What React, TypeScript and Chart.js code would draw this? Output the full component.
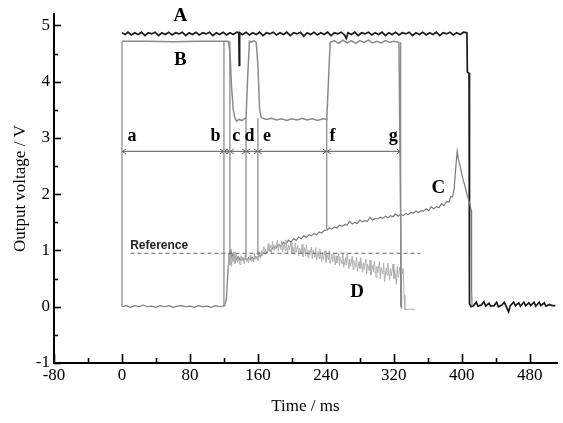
import React, { useEffect, useRef } from "react";
import { Chart, registerables } from "chart.js";

Chart.register(...registerables);

// ---- axes ----
const X_MIN = -80;
const X_MAX = 512;
const Y_MIN = -1;
const Y_MAX = 5.2;
const X_TICK_LABELS = [-80, 0, 80, 160, 240, 320, 400, 480];
const X_MINOR_TICKS = [-40, 40, 120, 200, 280, 360, 440];
const Y_TICK_LABELS = [-1, 0, 1, 2, 3, 4, 5];
const Y_MINOR_TICKS = [-0.5, 0.5, 1.5, 2.5, 3.5, 4.5];

// ---- series (time ms, voltage V) ----
const SERIES_A: [number, number][] = [
  [0, 4.87], [4, 4.84], [7, 4.88], [11, 4.83], [15, 4.87], [19, 4.84], [23, 4.88], [27, 4.82],
  [31, 4.87], [35, 4.85], [39, 4.88], [43, 4.82], [47, 4.87], [51, 4.84], [55, 4.88], [59, 4.83],
  [63, 4.87], [67, 4.85], [71, 4.88], [75, 4.82], [79, 4.87], [83, 4.84], [87, 4.88], [91, 4.83],
  [95, 4.87], [99, 4.85], [103, 4.88], [107, 4.82], [111, 4.87], [115, 4.84], [119, 4.88], [123, 4.83],
  [127, 4.87], [131, 4.84], [135, 4.88], [137.5, 4.87], [138, 4.29], [138.5, 4.87], [142, 4.84], [146, 4.88],
  [150, 4.83], [154, 4.87], [158, 4.84], [162, 4.88], [166, 4.82], [170, 4.87], [174, 4.85], [178, 4.88],
  [182, 4.83], [186, 4.87], [190, 4.84], [194, 4.88], [198, 4.82], [202, 4.87], [206, 4.85], [210, 4.88],
  [214, 4.81], [218, 4.87], [222, 4.84], [226, 4.88], [230, 4.83], [234, 4.87], [238, 4.84], [242, 4.88],
  [246, 4.82], [250, 4.87], [254, 4.85], [258, 4.88], [262, 4.83], [264, 4.77], [266, 4.87], [270, 4.84],
  [274, 4.88], [278, 4.82], [282, 4.87], [286, 4.85], [290, 4.88], [294, 4.83], [298, 4.87], [302, 4.84],
  [306, 4.88], [310, 4.82], [314, 4.87], [318, 4.84], [322, 4.88], [326, 4.83], [330, 4.87], [334, 4.85],
  [338, 4.88], [342, 4.82], [346, 4.87], [350, 4.84], [354, 4.88], [358, 4.83], [362, 4.87], [366, 4.84],
  [370, 4.88], [374, 4.82], [378, 4.87], [382, 4.85], [386, 4.88], [390, 4.83], [394, 4.87], [398, 4.84],
  [402, 4.88], [406, 4.87], [406.5, 4.17], [408.5, 4.15], [409, 0.05], [411, 0.0], [414, 0.02], [417, 0.08],
  [419, 0.01], [423, 0.03], [426, 0.09], [428, 0.01], [432, 0.06], [434, 0.01], [438, 0.02], [441, 0.08],
  [443, 0.0], [447, 0.03], [450, 0.08], [452, 0.01], [455, -0.09], [457, 0.02], [461, 0.08], [463, 0.02],
  [467, 0.07], [469, 0.01], [473, 0.08], [475, 0.02], [479, 0.07], [481, 0.02], [485, 0.08], [487, 0.01],
  [491, 0.08], [493, 0.02], [497, 0.07], [499, 0.01], [503, 0.04], [506, 0.02], [510, 0.02],
];

const SERIES_B: [number, number][] = [
  [0, 4.72], [30, 4.72], [60, 4.71], [90, 4.72], [122, 4.72], [125, 4.72], [127, 4.55], [129, 3.9],
  [131, 3.5], [133, 3.35], [135, 3.3], [138, 3.33], [141, 3.31], [144, 3.34], [146, 3.35], [148, 4.1],
  [150, 4.72], [152, 4.7], [155, 4.73], [158, 4.7], [160, 4.3], [162, 3.5], [164, 3.36], [170, 3.33],
  [176, 3.35], [182, 3.32], [188, 3.34], [194, 3.31], [200, 3.34], [206, 3.32], [212, 3.35], [218, 3.32],
  [224, 3.34], [230, 3.31], [236, 3.34], [241, 3.33], [243, 4.0], [245, 4.7], [250, 4.73], [255, 4.68],
  [260, 4.74], [265, 4.69], [270, 4.73], [275, 4.68], [280, 4.73], [285, 4.7], [290, 4.74], [295, 4.69],
  [300, 4.72], [305, 4.69], [310, 4.73], [315, 4.7], [320, 4.72], [326, 4.7], [329, -0.03],
];

const SERIES_C: [number, number][] = [
  [0, 0.0], [5, 0.02], [10, -0.01], [15, 0.02], [20, 0.0], [25, 0.03], [30, 0.0], [35, 0.01],
  [40, -0.01], [45, 0.02], [50, 0.0], [55, 0.02], [60, -0.01], [65, 0.01], [70, 0.02], [75, 0.0],
  [80, 0.01], [85, -0.01], [90, 0.02], [95, 0.0], [100, 0.01], [105, -0.01], [110, 0.02], [115, 0.0],
  [121, 0.02], [123, 0.15], [124, 0.45], [125, 0.7], [126, 0.95], [127, 1.0], [128, 0.84], [129, 0.96],
  [130, 0.86], [131, 0.93], [132, 0.82], [133, 0.9], [135, 0.84], [137, 0.89], [139, 0.83], [141, 0.87],
  [143, 0.82], [145, 0.86], [147, 0.83], [149, 0.87], [151, 0.84], [153, 0.88], [155, 0.85], [157, 0.89],
  [159, 0.86], [161, 0.91], [163, 0.89], [166, 0.96], [169, 0.94], [172, 1.01], [175, 0.99], [178, 1.06],
  [181, 1.04], [184, 1.1], [187, 1.08], [190, 1.14], [193, 1.12], [196, 1.18], [199, 1.15], [202, 1.21],
  [205, 1.18], [208, 1.24], [211, 1.21], [214, 1.26], [217, 1.23], [220, 1.28], [223, 1.26], [226, 1.3],
  [229, 1.28], [232, 1.33], [235, 1.31], [238, 1.36], [241, 1.36], [244, 1.4], [247, 1.38], [250, 1.42],
  [253, 1.4], [256, 1.45], [259, 1.43], [262, 1.46], [265, 1.45], [268, 1.52], [271, 1.47], [274, 1.5],
  [277, 1.48], [280, 1.54], [283, 1.51], [286, 1.53], [289, 1.52], [292, 1.59], [295, 1.54], [298, 1.57],
  [301, 1.56], [304, 1.59], [307, 1.57], [310, 1.61], [313, 1.58], [316, 1.62], [319, 1.6], [322, 1.65],
  [325, 1.61], [328, 1.64], [331, 1.62], [334, 1.66], [337, 1.64], [340, 1.68], [343, 1.66], [346, 1.7],
  [349, 1.67], [352, 1.71], [355, 1.7], [358, 1.74], [361, 1.71], [364, 1.78], [367, 1.74], [370, 1.78],
  [373, 1.76], [376, 1.83], [379, 1.8], [382, 1.87], [385, 1.86], [387, 1.96], [389, 1.95], [391, 2.1],
  [393, 2.5], [394.5, 2.76], [396, 2.62], [398, 2.5], [400, 2.35], [403, 2.18], [406, 2.0], [409, 1.85],
  [411, 1.72], [411.5, 0.3], [412, 0.02],
];

const SERIES_D: [number, number][] = [
  [125, 0.6], [126, 0.92], [127, 0.74], [128, 1.02], [129, 0.72], [130, 0.9], [131, 0.8], [132, 0.97],
  [133, 0.76], [135, 0.93], [136, 0.79], [137, 0.86], [139, 0.75], [140, 0.91], [141, 0.82], [143, 0.88],
  [144, 0.76], [145, 0.93], [147, 0.8], [148, 0.86], [149, 0.78], [151, 0.92], [152, 0.81], [153, 0.87],
  [155, 0.8], [156, 0.95], [157, 0.84], [159, 0.9], [160, 0.82], [161, 0.98], [163, 0.87], [164, 1.0],
  [165, 0.9], [167, 1.07], [168, 0.94], [169, 1.02], [171, 0.95], [172, 1.12], [173, 0.99], [175, 1.09],
  [176, 0.96], [177, 1.16], [179, 1.0], [180, 1.1], [181, 1.03], [183, 1.18], [184, 0.99], [185, 1.12],
  [187, 1.02], [188, 1.17], [189, 0.97], [191, 1.13], [192, 1.0], [193, 1.19], [195, 0.96], [196, 1.1],
  [197, 1.01], [199, 1.15], [200, 0.95], [201, 1.07], [203, 0.93], [204, 1.13], [205, 0.97], [207, 1.09],
  [208, 0.9], [209, 1.04], [211, 0.94], [212, 1.11], [213, 0.89], [215, 1.05], [216, 0.9], [217, 1.1],
  [219, 0.87], [220, 1.0], [221, 0.92], [223, 1.06], [224, 0.85], [225, 1.01], [227, 0.88], [228, 1.05],
  [229, 0.83], [231, 0.98], [232, 0.86], [233, 1.03], [235, 0.8], [236, 0.97], [237, 0.84], [239, 1.0],
  [240, 0.79], [241, 0.95], [243, 0.83], [244, 0.99], [245, 0.77], [247, 0.93], [248, 0.8], [249, 0.97],
  [251, 0.74], [252, 0.9], [253, 0.78], [255, 0.95], [256, 0.72], [257, 0.88], [259, 0.76], [260, 0.94],
  [261, 0.7], [263, 0.87], [264, 0.74], [265, 0.96], [267, 0.68], [268, 0.85], [269, 0.72], [271, 0.9],
  [272, 0.66], [273, 0.82], [275, 0.7], [276, 0.88], [277, 0.63], [279, 0.8], [280, 0.68], [281, 0.87],
  [283, 0.61], [284, 0.78], [285, 0.66], [287, 0.85], [288, 0.58], [289, 0.76], [291, 0.64], [292, 0.83],
  [293, 0.56], [295, 0.74], [296, 0.62], [297, 0.81], [299, 0.52], [300, 0.72], [301, 0.6], [303, 0.8],
  [304, 0.5], [305, 0.7], [307, 0.58], [308, 0.78], [309, 0.44], [311, 0.69], [312, 0.56], [313, 0.77],
  [315, 0.47], [316, 0.68], [317, 0.55], [319, 0.76], [320, 0.5], [321, 0.66], [323, 0.4], [324, 0.72],
  [325, 0.52], [327, 0.7], [328, 0.55], [329, 0.74], [330, 0.58], [331, 0.68], [332, 0.2], [333, -0.05],
  [338, -0.04], [345, -0.05],
];

// phase boundaries (ms) and their vertical marker extents (V)
const PHASE_T = [0, 120, 127, 146, 160, 241, 328];
const PHASE_LO = [0, 0, 0.95, 0.88, 0.92, 1.38, 0];
const PHASE_HI = [4.72, 4.72, 4.72, 3.35, 3.35, 3.35, 4.7];
const ARROW_V = 2.76;

const REFERENCE_V = 0.95;
const REFERENCE_RANGE = [10, 351];

// annotation labels (data coordinates)
const SERIES_LABELS = ["A", "B", "C", "D"];
const SERIES_LABEL_X = [68.6, 68.6, 372.4, 276.6];
const SERIES_LABEL_Y = [5.08, 4.29, 2.03, 0.17];
const PHASE_LABELS = ["a", "b", "c", "d", "e", "f", "g"];
const PHASE_LABEL_X = [11.8, 110, 134.4, 150.1, 170.7, 247.7, 319.3];
const PHASE_LABEL_Y = 2.95;
const REFERENCE_LABEL = "Reference";
const REFERENCE_LABEL_POS = [43.8, 1.03];

const toXY = (pts: [number, number][]) => pts.map(([x, y]) => ({ x, y }));
const X_ALL_TICKS = [...X_TICK_LABELS, ...X_MINOR_TICKS].sort((a, b) => a - b);
const Y_ALL_TICKS = [...Y_TICK_LABELS, ...Y_MINOR_TICKS].sort((a, b) => a - b);

const annotationPlugin = {
  id: "annotations",
  afterDatasetsDraw(chart: any) {
    const { ctx } = chart;
    const xs = chart.scales.x;
    const ys = chart.scales.y;
    ctx.save();
    ctx.strokeStyle = "#666";
    ctx.lineWidth = 1;
    const ay = ys.getPixelForValue(ARROW_V);
    PHASE_T.forEach((t, i) => {
      const px = xs.getPixelForValue(t);
      if (i > 0) {
        ctx.beginPath();
        ctx.moveTo(px - 4, ay - 2.5);
        ctx.lineTo(px - 0.5, ay);
        ctx.lineTo(px - 4, ay + 2.5);
        ctx.stroke();
      }
      if (i < PHASE_T.length - 1) {
        ctx.beginPath();
        ctx.moveTo(px + 4, ay - 2.5);
        ctx.lineTo(px + 0.5, ay);
        ctx.lineTo(px + 4, ay + 2.5);
        ctx.stroke();
      }
    });
    ctx.fillStyle = "#000";
    ctx.textAlign = "center";
    ctx.textBaseline = "alphabetic";
    ctx.font = "bold 19px 'Liberation Serif', serif";
    SERIES_LABELS.forEach((s, i) => {
      ctx.fillText(s, xs.getPixelForValue(SERIES_LABEL_X[i]), ys.getPixelForValue(SERIES_LABEL_Y[i]));
    });
    ctx.font = "bold 18px 'Liberation Serif', serif";
    PHASE_LABELS.forEach((s, i) => {
      ctx.fillText(s, xs.getPixelForValue(PHASE_LABEL_X[i]), ys.getPixelForValue(PHASE_LABEL_Y));
    });
    ctx.fillStyle = "#222";
    ctx.font = "bold 12px 'Liberation Sans', sans-serif";
    ctx.fillText(
      REFERENCE_LABEL,
      xs.getPixelForValue(REFERENCE_LABEL_POS[0]),
      ys.getPixelForValue(REFERENCE_LABEL_POS[1])
    );
    ctx.restore();
  },
  afterDraw(chart: any) {
    const { ctx, chartArea } = chart;
    const xs = chart.scales.x;
    const ys = chart.scales.y;
    ctx.save();
    ctx.strokeStyle = "#000";
    ctx.lineWidth = 1.6;
    X_ALL_TICKS.forEach((v) => {
      const major = X_TICK_LABELS.includes(v);
      const px = Math.round(xs.getPixelForValue(v)) + 0.5;
      ctx.beginPath();
      ctx.moveTo(px, chartArea.bottom);
      ctx.lineTo(px, chartArea.bottom - (major ? 9 : 5));
      ctx.stroke();
    });
    Y_ALL_TICKS.forEach((v) => {
      const major = Y_TICK_LABELS.includes(v);
      const py = Math.round(ys.getPixelForValue(v)) + 0.5;
      ctx.beginPath();
      ctx.moveTo(chartArea.left, py);
      ctx.lineTo(chartArea.left + (major ? 7 : 4), py);
      ctx.stroke();
    });
    ctx.restore();
  },
};

export default function App() {
  const canvasRef = useRef<HTMLCanvasElement | null>(null);

  useEffect(() => {
    document.body.style.margin = "0";
    const canvas = canvasRef.current;
    if (!canvas) return;

    const markerData: any[] = [];
    PHASE_T.forEach((t, i) => {
      markerData.push({ x: t, y: PHASE_LO[i] }, { x: t, y: PHASE_HI[i] }, { x: t, y: null });
    });

    const line = (data: any[], color: string, width: number, extra: any = {}) => ({
      data,
      borderColor: color,
      borderWidth: width,
      pointRadius: 0,
      fill: false,
      tension: 0,
      spanGaps: false,
      ...extra,
    });

    const chart = new Chart(canvas, {
      type: "line",
      data: {
        datasets: [
          line(markerData, "#8c8c8c", 1.3),
          line(
            [
              { x: PHASE_T[0], y: ARROW_V },
              { x: PHASE_T[PHASE_T.length - 1], y: ARROW_V },
            ],
            "#777",
            1.2
          ),
          line(
            [
              { x: REFERENCE_RANGE[0], y: REFERENCE_V },
              { x: REFERENCE_RANGE[1], y: REFERENCE_V },
            ],
            "#666",
            1,
            { borderDash: [4, 3] }
          ),
          line(toXY(SERIES_D), "#b0b0b0", 1),
          line(toXY(SERIES_C), "#7a7a7a", 1.2),
          line(toXY(SERIES_B), "#8a8a8a", 1.5),
          line(toXY(SERIES_A), "#1a1a1a", 1.7),
        ],
      },
      options: {
        animation: false,
        responsive: false,
        maintainAspectRatio: false,
        layout: { padding: { top: 13, right: 6, left: 0, bottom: 0 } },
        plugins: { legend: { display: false }, tooltip: { enabled: false } },
        scales: {
          x: {
            type: "linear",
            min: X_MIN,
            max: X_MAX,
            grid: { display: false, drawTicks: false },
            border: { display: true, color: "#000", width: 2 },
            afterBuildTicks: (s: any) => {
              s.ticks = X_ALL_TICKS.map((v) => ({ value: v }));
            },
            ticks: {
              autoSkip: false,
              maxRotation: 0,
              padding: 2,
              color: "#000",
              font: { family: "'Liberation Serif', serif", size: 17 },
              callback: (v: any) => (X_TICK_LABELS.includes(Number(v)) ? String(v) : ""),
            },
            title: {
              display: true,
              text: "Time / ms",
              color: "#000",
              font: { family: "'Liberation Serif', serif", size: 17 },
              padding: { top: 0, bottom: 6 },
            },
            afterFit: (s: any) => {
              s.height = 60;
            },
          },
          y: {
            type: "linear",
            min: Y_MIN,
            max: Y_MAX,
            grid: { display: false, drawTicks: false },
            border: { display: true, color: "#000", width: 2 },
            afterBuildTicks: (s: any) => {
              s.ticks = Y_ALL_TICKS.map((v) => ({ value: v }));
            },
            ticks: {
              autoSkip: false,
              padding: 4,
              color: "#000",
              font: { family: "'Liberation Serif', serif", size: 17 },
              callback: (v: any) => (Y_TICK_LABELS.includes(Number(v)) ? String(v) : ""),
            },
            title: {
              display: true,
              text: "Output voltage / V",
              color: "#000",
              font: { family: "'Liberation Serif', serif", size: 17 },
              padding: { top: 10, bottom: 0 },
            },
            afterFit: (s: any) => {
              s.width = 54;
            },
          },
        },
      },
      plugins: [annotationPlugin],
    });

    return () => chart.destroy();
  }, []);

  return (
    <div style={{ width: 563, height: 423, background: "#fff" }}>
      <canvas ref={canvasRef} width={563} height={423} style={{ display: "block" }} />
    </div>
  );
}
